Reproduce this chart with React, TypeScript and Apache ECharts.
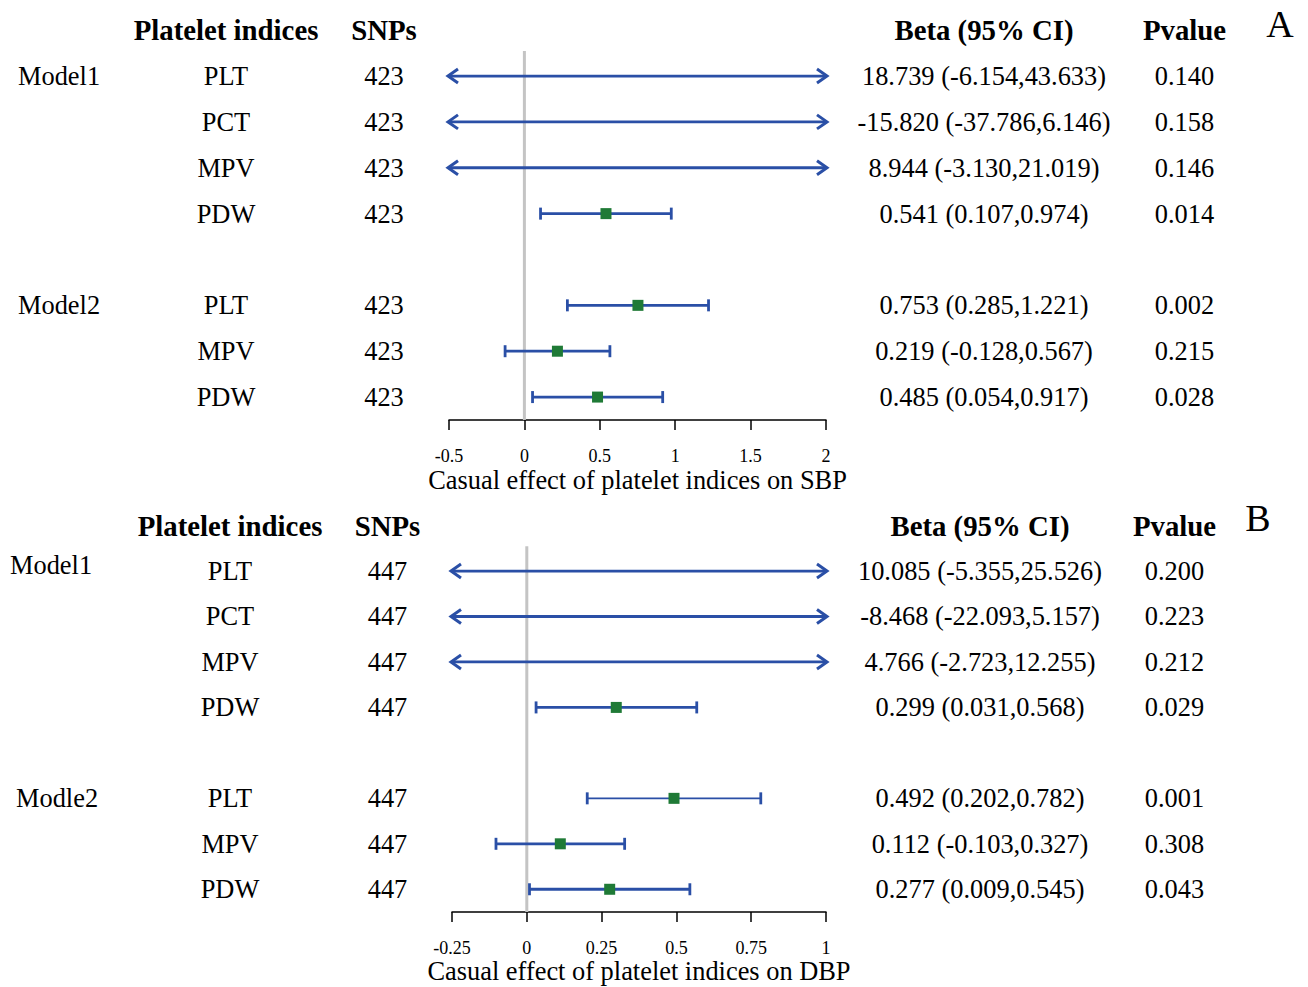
import React, { useEffect, useRef } from "react";
import * as echarts from "echarts";

// ---------------- data ----------------
// Panel A: causal effect on SBP
const groupsA = ["Model1", "", "", "", "", "Model2", "", ""];
const indicesA = ["PLT", "PCT", "MPV", "PDW", "", "PLT", "MPV", "PDW"];
const snpsA = ["423", "423", "423", "423", "", "423", "423", "423"];
const betaA = [18.739, -15.82, 8.944, 0.541, null, 0.753, 0.219, 0.485];
const lowA = [-6.154, -37.786, -3.13, 0.107, null, 0.285, -0.128, 0.054];
const highA = [43.633, 6.146, 21.019, 0.974, null, 1.221, 0.567, 0.917];
const pvalA = ["0.140", "0.158", "0.146", "0.014", "", "0.002", "0.215", "0.028"];
const ticksA = [-0.5, 0, 0.5, 1, 1.5, 2];

// Panel B: causal effect on DBP
const groupsB = ["Model1", "", "", "", "", "Modle2", "", ""];
const indicesB = ["PLT", "PCT", "MPV", "PDW", "", "PLT", "MPV", "PDW"];
const snpsB = ["447", "447", "447", "447", "", "447", "447", "447"];
const betaB = [10.085, -8.468, 4.766, 0.299, null, 0.492, 0.112, 0.277];
const lowB = [-5.355, -22.093, -2.723, 0.031, null, 0.202, -0.103, 0.009];
const highB = [25.526, 5.157, 12.255, 0.568, null, 0.782, 0.327, 0.545];
const pvalB = ["0.200", "0.223", "0.212", "0.029", "", "0.001", "0.308", "0.043"];
const ticksB = [-0.25, 0, 0.25, 0.5, 0.75, 1];

const headers = ["Platelet indices", "SNPs", "Beta (95% CI)", "Pvalue"];

// ---------------- styles ----------------
const FONT = "'Liberation Serif', 'Times New Roman', Times, serif";
const BLUE = "#2a4fa6";
const GREEN = "#1f7a36";
const REF = "#c4c4c4";
const BODY_SIZE = 26.4;
const HEAD_SIZE = 28.8;

type Panel = {
  groups: string[];
  indices: string[];
  snps: string[];
  beta: (number | null)[];
  low: (number | null)[];
  high: (number | null)[];
  pval: string[];
  ticks: number[];
  title: string;
  letter: string;
  grid: { left: number; top: number; width: number; height: number };
  cols: { group: number; indices: number; snps: number; beta: number; pval: number };
  groupOffset: Record<number, [number, number]>;
  thinRows: number[];
  labelMargin: number;
  nameGap: number;
  letterPos: [number, number];
};

const panels: Panel[] = [
  {
    groups: groupsA, indices: indicesA, snps: snpsA, beta: betaA, low: lowA, high: highA, pval: pvalA,
    ticks: ticksA, title: "Casual effect of platelet indices on SBP", letter: "A",
    grid: { left: 449, top: 53.1, width: 377, height: 366.9 },
    cols: { group: 18, indices: 226, snps: 384, beta: 984, pval: 1184.5 },
    groupOffset: {},
    thinRows: [],
    labelMargin: 27, nameGap: 47, letterPos: [1280, 24],
  },
  {
    groups: groupsB, indices: indicesB, snps: snpsB, beta: betaB, low: lowB, high: highB, pval: pvalB,
    ticks: ticksB, title: "Casual effect of platelet indices on DBP", letter: "B",
    grid: { left: 452, top: 548.3, width: 374, height: 363.7 },
    cols: { group: 16, indices: 230, snps: 387.5, beta: 980, pval: 1174.5 },
    groupOffset: { 0: [-6, -6] },
    thinRows: [5],
    labelMargin: 27, nameGap: 45, letterPos: [1258, 518],
  },
];

const fmt = (v: number) => v.toFixed(3);

export default function App() {
  const ref = useRef<HTMLDivElement>(null);
  useEffect(() => {
    document.body.style.margin = "0";
    if (!ref.current) return;
    const chart = echarts.init(ref.current, undefined, { renderer: "svg" });

    const grids: any[] = [];
    const xAxes: any[] = [];
    const yAxes: any[] = [];
    const series: any[] = [];
    const graphics: any[] = [];

    panels.forEach((p, pi) => {
      const xmin = p.ticks[0];
      const xmax = p.ticks[p.ticks.length - 1];
      const interval = p.ticks[1] - p.ticks[0];
      const nRows = p.indices.length;

      grids.push({ ...p.grid, containLabel: false, show: false });
      xAxes.push({
        gridIndex: pi,
        type: "value",
        min: xmin,
        max: xmax,
        interval,
        position: "bottom",
        axisLine: { show: true, onZero: false, lineStyle: { color: "#000", width: 1.5 } },
        axisTick: { show: true, inside: false, length: 10, lineStyle: { color: "#000", width: 1.5 } },
        splitLine: { show: false },
        axisLabel: { color: "#000", fontFamily: FONT, fontSize: 18, margin: p.labelMargin },
        name: p.title,
        nameLocation: "middle",
        nameGap: p.nameGap,
        nameTextStyle: { color: "#000", fontFamily: FONT, fontSize: BODY_SIZE },
      });
      yAxes.push({
        gridIndex: pi,
        type: "value",
        min: -0.5,
        max: nRows - 0.5,
        inverse: true,
        show: false,
      });

      // reference line at 0
      series.push({
        type: "custom",
        xAxisIndex: pi,
        yAxisIndex: pi,
        z: 1,
        silent: true,
        data: [[0, -0.5]],
        renderItem: (_params: any, api: any) => {
          const top = api.coord([0, -0.5]);
          const bot = api.coord([0, nRows - 0.5]);
          return {
            type: "line",
            shape: { x1: top[0], y1: top[1] - 2, x2: bot[0], y2: bot[1] },
            style: { stroke: REF, lineWidth: 3 },
          };
        },
      });

      // error bars
      const ebData: number[][] = [];
      p.beta.forEach((b, i) => {
        if (b !== null) ebData.push([i, p.low[i] as number, b, p.high[i] as number]);
      });
      series.push({
        type: "custom",
        xAxisIndex: pi,
        yAxisIndex: pi,
        z: 3,
        silent: true,
        encode: { x: [1, 2, 3], y: 0 },
        data: ebData,
        renderItem: (_params: any, api: any) => {
          const row = api.value(0);
          const lo = api.value(1);
          const est = api.value(2);
          const hi = api.value(3);
          const a = Math.max(lo, xmin);
          const b = Math.min(hi, xmax);
          const p1 = api.coord([a, row]);
          const p2 = api.coord([b, row]);
          const y = p1[1];
          const lw = p.thinRows.includes(row) ? 1.6 : 2.8;
          const children: any[] = [
            { type: "line", shape: { x1: p1[0], y1: y, x2: p2[0], y2: y }, style: { stroke: BLUE, lineWidth: lw } },
          ];
          if (lo < xmin) {
            children.push({
              type: "polyline",
              shape: { points: [[p1[0] + 9, y - 7], [p1[0] - 1, y], [p1[0] + 9, y + 7]] },
              style: { stroke: BLUE, lineWidth: 3, fill: "none" },
            });
          } else {
            children.push({ type: "line", shape: { x1: p1[0], y1: y - 6, x2: p1[0], y2: y + 6 }, style: { stroke: BLUE, lineWidth: 2.8 } });
          }
          if (hi > xmax) {
            children.push({
              type: "polyline",
              shape: { points: [[p2[0] - 9, y - 7], [p2[0] + 1, y], [p2[0] - 9, y + 7]] },
              style: { stroke: BLUE, lineWidth: 3, fill: "none" },
            });
          } else {
            children.push({ type: "line", shape: { x1: p2[0], y1: y - 6, x2: p2[0], y2: y + 6 }, style: { stroke: BLUE, lineWidth: 2.8 } });
          }
          if (est >= xmin && est <= xmax) {
            const c = api.coord([est, row]);
            children.push({ type: "rect", shape: { x: c[0] - 5.5, y: c[1] - 5.5, width: 11, height: 11 }, style: { fill: GREEN } });
          }
          return { type: "group", children };
        },
      });

      // table text columns
      const rows: number[][] = [];
      for (let i = -1; i < nRows; i++) rows.push([xmin, i]);
      series.push({
        type: "custom",
        xAxisIndex: pi,
        yAxisIndex: pi,
        z: 4,
        silent: true,
        clip: false,
        data: rows,
        renderItem: (_params: any, api: any) => {
          const row = api.value(1);
          const y = api.coord([xmin, row])[1];
          const txt = (text: string, x: number, yy: number, bold: boolean, align = "center") => ({
            type: "text",
            x,
            y: yy,
            style: {
              text,
              fill: "#000",
              fontFamily: FONT,
              fontSize: bold ? HEAD_SIZE : BODY_SIZE,
              fontWeight: bold ? "bold" : "normal",
              align,
              verticalAlign: "middle",
            },
          });
          const children: any[] = [];
          if (row === -1) {
            children.push(txt(headers[0], p.cols.indices, y, true));
            children.push(txt(headers[1], p.cols.snps, y, true));
            children.push(txt(headers[2], p.cols.beta, y, true));
            children.push(txt(headers[3], p.cols.pval, y, true));
          } else {
            const g = p.groups[row];
            if (g) {
              const off = p.groupOffset[row] || [0, 0];
              children.push(txt(g, p.cols.group + off[0], y + off[1], false, "left"));
            }
            if (p.indices[row]) children.push(txt(p.indices[row], p.cols.indices, y, false));
            if (p.snps[row]) children.push(txt(p.snps[row], p.cols.snps, y, false));
            const b = p.beta[row];
            if (b !== null) {
              children.push(
                txt(`${fmt(b)} (${fmt(p.low[row] as number)},${fmt(p.high[row] as number)})`, p.cols.beta, y, false)
              );
            }
            if (p.pval[row]) children.push(txt(p.pval[row], p.cols.pval, y, false));
          }
          return { type: "group", children };
        },
      });

      graphics.push({
        type: "text",
        x: p.letterPos[0],
        y: p.letterPos[1],
        style: {
          text: p.letter,
          fill: "#000",
          fontFamily: FONT,
          fontSize: 38,
          align: "center",
          verticalAlign: "middle",
        },
      });
    });

    chart.setOption({
      animation: false,
      backgroundColor: "#fff",
      grid: grids,
      xAxis: xAxes,
      yAxis: yAxes,
      series,
      graphic: graphics,
    });
    return () => chart.dispose();
  }, []);
  return <div ref={ref} style={{ width: 1308, height: 987 }} />;
}
